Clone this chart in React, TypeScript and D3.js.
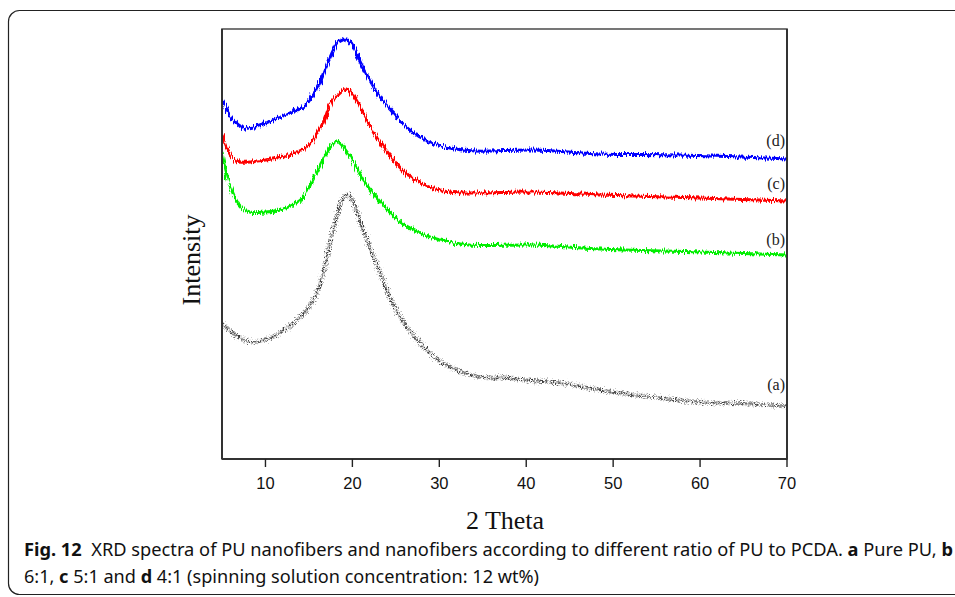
import React from "react";
import * as d3 from "d3";

// XRD spectra (arbitrary intensity units, offset per curve)
const curveA_x = [5, 6.5, 8.5, 10.5, 12.5, 14.2, 15.4, 16.2, 16.7, 17.2, 17.7, 18.2, 18.8, 19.5, 20.3, 21.1, 22, 23.2, 24.3, 25.5, 27.2, 28.9, 31.2, 34.7, 38.1, 40, 43.9, 50, 55.4, 60, 65.8, 70];
const curveA_y = [136, 124, 117, 121, 131, 144, 157, 173, 188, 207, 226, 242, 259, 265, 252, 232, 212, 186, 162, 142, 122, 106, 92, 82, 81, 79, 76, 67, 61, 57, 55, 53];

const curveB_x = [5, 5.9, 7, 8.2, 10, 11.7, 14.3, 15.1, 16.3, 17.4, 18.2, 19.2, 20.3, 21.4, 23.2, 25.5, 27.8, 30.1, 33.5, 40.8, 48.5, 60, 70];
const curveB_y = [306, 274, 254, 247, 247, 249, 261, 274, 294, 311, 318, 309, 294, 277, 257, 237, 226, 219, 214, 214, 210, 207, 204];

const curveC_x = [5, 6.2, 7, 10, 12.8, 15, 16.5, 17.6, 18.6, 19.4, 20.3, 21.5, 22.6, 24.3, 26, 28.4, 31.2, 34.1, 40.8, 48.5, 60, 70];
const curveC_y = [325, 301, 297, 299, 304, 314, 334, 357, 367, 370, 361, 342, 324, 304, 287, 274, 267, 266, 267, 264, 261, 258];

const curveD_x = [5, 6.2, 7.6, 10, 12.8, 14.6, 15.4, 16.3, 17.4, 18.3, 19.2, 20, 20.9, 22, 23.2, 24.9, 26.6, 28.9, 31.2, 34.1, 40.8, 48.5, 57.7, 70];
const curveD_y = [359, 340, 331, 336, 346, 354, 363, 377, 401, 416, 420, 414, 397, 379, 362, 344, 329, 317, 311, 308, 309, 305, 304, 300];

const seriesNames = ["(a)", "(b)", "(c)", "(d)"];
const seriesColors = ["#1a1a1a", "#00ee00", "#ff0000", "#0000ff"];
const labelY = [69, 214, 270, 313]; // label baseline height, same units as curves

const xTicks = [10, 20, 30, 40, 50, 60, 70];
const xTitle = "2 Theta";
const yTitle = "Intensity";
const captionLine1 = [
  { t: "Fig. 12", b: true },
  { t: "  XRD spectra of PU nanofibers and nanofibers according to different ratio of PU to PCDA. ", b: false },
  { t: "a", b: true },
  { t: " Pure PU, ", b: false },
  { t: "b", b: true },
];
const captionLine2 = [
  { t: "6:1, ", b: false },
  { t: "c", b: true },
  { t: " 5:1 and ", b: false },
  { t: "d", b: true },
  { t: " 4:1 (spinning solution concentration: 12 wt%)", b: false },
];

const W = 955;
const H = 597;
const plot = { left: 222, right: 787, top: 29, bottom: 459 };

export default function App() {
  const x = d3.scaleLinear().domain([5, 70]).range([plot.left, plot.right]);
  const y = d3.scaleLinear().domain([0, 430]).range([plot.bottom, plot.top]);

  const series = [
    { xs: curveA_x, ys: curveA_y },
    { xs: curveB_x, ys: curveB_y },
    { xs: curveC_x, ys: curveC_y },
    { xs: curveD_x, ys: curveD_y },
  ];

  const line = d3
    .line<[number, number]>()
    .x((d) => x(d[0]))
    .y((d) => y(d[1]))
    .curve(d3.curveCatmullRom.alpha(0.5));

  const serif = "'Liberation Serif', 'Times New Roman', serif";
  const sans = "'Liberation Sans', Arial, sans-serif";
  const capFont = "'Noto Sans', 'Open Sans', sans-serif";

  return (
    <svg
      width={W}
      height={H}
      style={{ position: "absolute", left: 0, top: 0, background: "#fff" }}
    >
      <defs>
        <filter id="jitter" x="-5%" y="-20%" width="110%" height="140%">
          <feTurbulence type="fractalNoise" baseFrequency="0.9 0.08" numOctaves="2" seed="3" />
          <feDisplacementMap in="SourceGraphic" scale="7" xChannelSelector="G" yChannelSelector="R" />
        </filter>
        <filter id="scatter" x="-5%" y="-20%" width="110%" height="140%">
          <feTurbulence type="fractalNoise" baseFrequency="0.7 0.7" numOctaves="2" seed="7" />
          <feDisplacementMap in="SourceGraphic" scale="8" xChannelSelector="G" yChannelSelector="R" />
        </filter>
        <clipPath id="plotClip">
          <rect x={plot.left} y={plot.top} width={plot.right - plot.left} height={plot.bottom - plot.top} />
        </clipPath>
      </defs>

      {/* outer caption frame */}
      <rect x={8.5} y={10.5} width={980} height={584} rx={11} fill="none" stroke="#222" strokeWidth={1.2} />

      {/* curves */}
      <g clipPath="url(#plotClip)">
        {series.map((s, i) => {
          const pts = s.xs.map((v, j) => [v, s.ys[j]] as [number, number]);
          return i === 0 ? (
            <g key={i} filter="url(#scatter)">
              <path
                d={line(pts) ?? ""}
                fill="none"
                stroke={seriesColors[i]}
                strokeWidth={3}
                strokeDasharray="1 1.2"
                opacity={0.85}
              />
              <path
                d={line(pts) ?? ""}
                fill="none"
                stroke={seriesColors[i]}
                strokeWidth={5}
                strokeDasharray="0.6 2.2"
                opacity={0.5}
              />
            </g>
          ) : (
            <path
              key={i}
              d={line(pts) ?? ""}
              fill="none"
              stroke={seriesColors[i]}
              strokeWidth={3}
              filter="url(#jitter)"
            />
          );
        })}
      </g>

      {/* plot frame */}
      <rect
        x={plot.left}
        y={plot.top}
        width={plot.right - plot.left}
        height={plot.bottom - plot.top}
        fill="none"
        stroke="#555"
        strokeWidth={1.6}
      />
      <line x1={plot.left} x2={plot.left} y1={plot.top} y2={plot.bottom} stroke="#222" strokeWidth={1.6} />
      <line x1={plot.right} x2={plot.right} y1={plot.top} y2={plot.bottom} stroke="#222" strokeWidth={1.6} />
      <line x1={plot.left} x2={plot.right} y1={plot.bottom} y2={plot.bottom} stroke="#333" strokeWidth={1.8} />

      {/* x ticks */}
      {xTicks.map((t) => (
        <g key={t} transform={`translate(${x(t)},${plot.bottom})`}>
          <line y1={0} y2={8} stroke="#222" strokeWidth={1.4} />
          <text y={30} textAnchor="middle" fontFamily={sans} fontSize={16.5} fill="#111">
            {t}
          </text>
        </g>
      ))}

      {/* series labels */}
      {seriesNames.map((n, i) => (
        <text key={n} x={785} y={y(labelY[i])} textAnchor="end" fontFamily={serif} fontSize={16} fill="#222">
          {n}
        </text>
      ))}

      {/* axis titles */}
      <text x={505} y={529} textAnchor="middle" fontFamily={serif} fontSize={26} fill="#111">
        {xTitle}
      </text>
      <text
        transform={`translate(200,260) rotate(-90)`}
        textAnchor="middle"
        fontFamily={serif}
        fontSize={26}
        fill="#111"
      >
        {yTitle}
      </text>

      {/* caption */}
      <text x={24} y={556} fontFamily={capFont} fontSize={17.5} fill="#111" textLength={929} lengthAdjust="spacingAndGlyphs">
        {captionLine1.map((p, i) => (
          <tspan key={i} fontWeight={p.b ? 700 : 400} style={{ whiteSpace: "pre" }}>
            {p.t}
          </tspan>
        ))}
      </text>
      <text x={24} y={583} fontFamily={capFont} fontSize={17.5} fill="#111" textLength={515} lengthAdjust="spacingAndGlyphs">
        {captionLine2.map((p, i) => (
          <tspan key={i} fontWeight={p.b ? 700 : 400} style={{ whiteSpace: "pre" }}>
            {p.t}
          </tspan>
        ))}
      </text>
    </svg>
  );
}
